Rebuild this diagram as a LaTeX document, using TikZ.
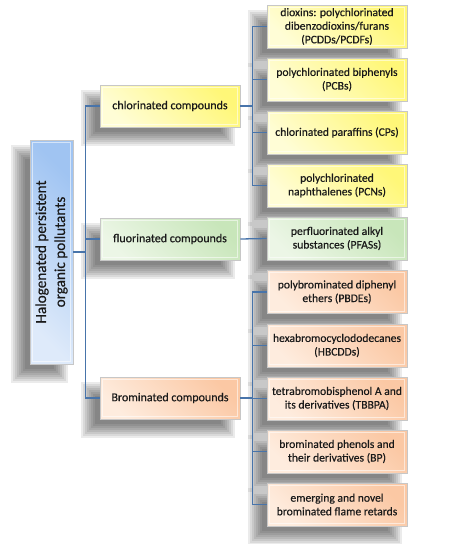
\documentclass[tikz,border=0pt]{standalone}
\usepackage{fontspec}
\setmainfont{Carlito}[FakeBold=0.4]
\usetikzlibrary{calc}
\pgfdeclarelayer{bg}
\pgfsetlayers{bg,main}
\definecolor{lnc}{RGB}{72,116,170}
\definecolor{txt}{RGB}{25,25,25}
\definecolor{ylo}{RGB}{255,253,214}
\definecolor{yhi}{RGB}{255,247,120}
\definecolor{glo}{RGB}{236,246,230}
\definecolor{ghi}{RGB}{200,230,186}
\definecolor{olo}{RGB}{254,236,222}
\definecolor{ohi}{RGB}{251,200,164}
\definecolor{blo}{RGB}{222,234,250}
\definecolor{bhi}{RGB}{160,196,242}
\newcommand\boxdeco[1]{%
  \begin{pgfonlayer}{bg}
    \foreach \sh in {-7,-5,...,7}{%
      \fill[black,opacity=0.08] ($(#1.north west)+(-12-\sh,12-\sh)$) rectangle ($(#1.south east)+(-12+\sh,12+\sh)$);}
  \end{pgfonlayer}
  \draw[bevel] ($(#1.north west)+(2.5,2.5)$) rectangle ($(#1.south east)+(-2.5,-2.5)$);}
\begin{document}
\begin{tikzpicture}[x=1pt,y=-1pt,
  box/.style={rectangle, inner sep=0pt, minimum width=140pt, minimum height=43pt,
    align=center, font=\fontsize{11.6}{13.6}\selectfont, text=txt,
    draw=black!22, line width=0.6pt},
  bevel/.style={draw=white, opacity=0.55, line width=0.8pt},
  ybox/.style={box, left color=ylo, right color=yhi, shading angle=135},
  gbox/.style={box, left color=glo, right color=ghi, shading angle=135},
  obox/.style={box, left color=olo, right color=ohi, shading angle=135},
  bbox/.style={box, left color=blo, right color=bhi, shading angle=135},
  midbox/.style={minimum height=42pt, font=\fontsize{12}{14}\selectfont},
  conn/.style={draw=lnc, line width=1.3pt}]
\useasboundingbox (0,0) rectangle (450,544);
% root
\node[bbox, minimum width=43pt, minimum height=224pt] (root) at (51.5,252) {};
\node[rotate=90, font=\fontsize{15.2}{19}\selectfont, align=center, text=txt] (roottext) at (root.center) {Halogenated persistent\\organic pollutants};
% middle
\node[ybox, midbox] (chl) at (170,106) {chlorinated compounds};
\node[gbox, midbox] (flu) at (170,239) {fluorinated compounds};
\node[obox, midbox] (bro) at (170,398) {Brominated compounds};
% right
\node[ybox] (c1) at (337,26.5) {dioxins: polychlorinated\\dibenzodioxins/furans\\(PCDDs/PCDFs)};
\node[ybox] (c2) at (337,79.5) {polychlorinated biphenyls\\(PCBs)};
\node[ybox] (c3) at (337,132.5) {chlorinated paraffins (CPs)};
\node[ybox] (c4) at (337,185.5) {polychlorinated\\naphthalenes (PCNs)};
\node[gbox] (f1) at (337,238.5) {perfluorinated alkyl\\substances (PFASs)};
\node[obox] (b1) at (337,292) {polybrominated diphenyl\\ethers (PBDEs)};
\node[obox] (b2) at (337,345.5) {hexabromocyclododecanes\\(HBCDDs)};
\node[obox] (b3) at (337,398.5) {tetrabromobisphenol A and\\its derivatives (TBBPA)};
\node[obox] (b4) at (337,451.5) {brominated phenols and\\their derivatives (BP)};
\node[obox] (b5) at (337,504.5) {emerging and novel\\brominated flame retards};
\foreach \nm in {root,chl,flu,bro,c1,c2,c3,c4,f1,b1,b2,b3,b4,b5}{\boxdeco{\nm}}
% connectors left
\draw[conn] (root.east) -- ++(13,0);
\draw[conn] (chl.west) -- ++(-14,0) |- (bro.west);
\draw[conn] (flu.west) -- ++(-14,0);
% chlorinated branch
\draw[conn] (chl.east) -- ++(13,0);
\draw[conn] (c1.west) -- ++(-14,0) |- (c4.west);
\draw[conn] (c2.west) -- ++(-14,0);
\draw[conn] (c3.west) -- ++(-14,0);
% fluorinated
\draw[conn] (flu.east) -- (f1.west);
% brominated branch
\draw[conn] (bro.east) -- ++(13,0);
\draw[conn] (b1.west) -- ++(-14,0) |- (b5.west);
\draw[conn] (b2.west) -- ++(-14,0);
\draw[conn] (b3.west) -- ++(-14,0);
\draw[conn] (b4.west) -- ++(-14,0);
\end{tikzpicture}
\end{document}
